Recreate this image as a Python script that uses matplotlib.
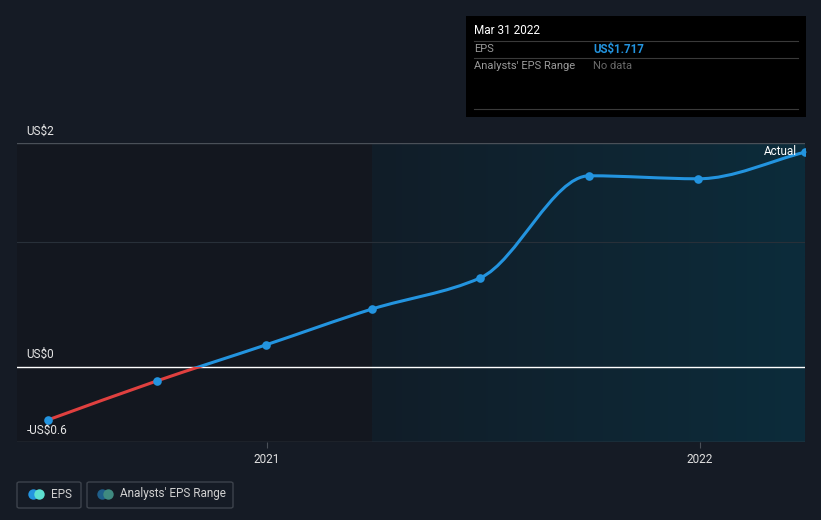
import numpy as np
import matplotlib.pyplot as plt
import matplotlib.dates as mdates
from matplotlib.path import Path
from matplotlib.patches import PathPatch, Rectangle, FancyBboxPatch
from matplotlib.colors import LinearSegmentedColormap
import datetime as dt

plt.rcParams['font.family'] = ['Roboto', 'DejaVu Sans']

# EPS data (quarterly, trailing)
dates = ['2020-06-30', '2020-09-30', '2020-12-31', '2021-03-31',
         '2021-06-30', '2021-09-30', '2021-12-31', '2022-03-31']
eps = [-0.424, -0.112, 0.176, 0.464, 0.712, 1.528, 1.504, 1.717]
y_ticks = [1.79, 0.0, -0.6]
y_labels = ['US$2', 'US$0', '-US$0.6']
x_ticks = ['2021-01-01', '2022-01-01']
x_labels = ['2021', '2022']

BG = '#151b25'
BLUE = '#2394df'
RED = '#e0403f'

fig = plt.figure(figsize=(8.21, 5.20), dpi=100, facecolor=BG)
ax = fig.add_axes([17 / 821, 78 / 520, 788 / 821, 299 / 520])
ax.set_facecolor('#13171f')

x = mdates.date2num([dt.date.fromisoformat(d) for d in dates])
y = np.array(eps)
x0 = mdates.date2num(dt.date(2020, 6, 4))
x1 = mdates.date2num(dt.date(2022, 3, 31))
ax.set_xlim(x0, x1)
ax.set_ylim(-0.6, 1.79)

# shaded "past year" region with horizontal gradient
grad = np.linspace(0, 1, 256).reshape(1, -1)
cm = LinearSegmentedColormap.from_list('sh', ['#111d28', '#0c2c3b'])
ax.imshow(grad, extent=[x[3], x1, -0.6, 1.79], aspect='auto', cmap=cm,
          zorder=0, interpolation='bilinear')

# grid lines
ax.axhline(1.79, color='#4a5058', lw=1, zorder=1)
ax.axhline(1.0, color='#283039', lw=0.8, zorder=1)
ax.axhline(-0.6, color='#4a5058', lw=1, zorder=1)
ax.axhline(0, color='white', lw=1, zorder=2)

# smooth monotone curve as cubic Bezier path
h = np.diff(x)
d = np.diff(y) / h
m = np.zeros_like(y)
m[0], m[-1] = d[0], d[-1]
for i in range(1, len(y) - 1):
    if d[i - 1] * d[i] <= 0:
        m[i] = 0
    else:
        w1 = 2 * h[i] + h[i - 1]
        w2 = h[i] + 2 * h[i - 1]
        m[i] = (w1 + w2) / (w1 / d[i - 1] + w2 / d[i])
verts = [(x[0], y[0])]
codes = [Path.MOVETO]
for i in range(len(x) - 1):
    verts += [(x[i] + h[i] / 3, y[i] + m[i] * h[i] / 3),
              (x[i + 1] - h[i] / 3, y[i + 1] - m[i + 1] * h[i] / 3),
              (x[i + 1], y[i + 1])]
    codes += [Path.CURVE4] * 3
path = Path(verts, codes)

for color, (lo, hi) in [(RED, (-5, 0)), (BLUE, (0, 5))]:
    p = PathPatch(path, facecolor='none', edgecolor=color, lw=2.2,
                  zorder=3, capstyle='round')
    ax.add_patch(p)
    clip = Rectangle((x0 - 100, lo), x1 - x0 + 200, hi - lo,
                     transform=ax.transData)
    p.set_clip_path(clip)

ax.plot(x, y, 'o', color=BLUE, ms=6.2, zorder=4, mec='none')

ax.text(x1 - 7, 1.72, 'Actual', color='white', fontsize=8.5,
        ha='right', va='center', zorder=5)

for s in ax.spines.values():
    s.set_visible(False)
ax.set_yticks([])
xt = mdates.date2num([dt.date.fromisoformat(d) for d in x_ticks])
ax.set_xticks(xt)
ax.set_xticklabels(x_labels, color='#e0e0e0', fontsize=8.5)
ax.tick_params(axis='x', length=4, color='#4a5058', pad=4)

# y labels just above their lines
for val, lab in zip(y_ticks, y_labels):
    ax.text(x0 + 8, val + 0.045, lab, color='#e6e6e6', fontsize=8.5,
            va='bottom', ha='left', clip_on=False)


def fx(px):
    return px / 821


def fy(py):
    return (520 - py) / 520


# tooltip box
fig.patches.append(Rectangle((fx(466), fy(117)), 340 / 821, 101 / 520,
                             transform=fig.transFigure, facecolor='black',
                             edgecolor='none', zorder=5))
fig.text(fx(474), fy(31), 'Mar 31 2022', color='white', fontsize=8.5,
         va='center', zorder=6)
for ly in (41, 58, 109):
    fig.add_artist(plt.Line2D([fx(474), fx(798)], [fy(ly), fy(ly)],
                              color='#3a3a3a', lw=0.8, zorder=6))
fig.text(fx(474), fy(49), 'EPS', color='#9a9a9a', fontsize=8, va='center', zorder=6)
fig.text(fx(593), fy(49), 'US$1.717', color=BLUE, fontsize=8.3, va='center',
         fontweight='bold', zorder=6)
fig.text(fx(474), fy(66), "Analysts' EPS Range", color='#9a9a9a', fontsize=8,
         va='center', zorder=6)
fig.text(fx(593), fy(66), 'No data', color='#6a6a6a', fontsize=8, va='center', zorder=6)

# legend
for (bx, bw) in [(17, 64), (87, 146)]:
    fig.patches.append(FancyBboxPatch((fx(bx), fy(508)), bw / 821, 26 / 520,
                                      boxstyle='round,pad=0,rounding_size=0.003',
                                      transform=fig.transFigure, facecolor='none',
                                      edgecolor='#3d434c', lw=1))
legend_items = [(33, 39, BLUE, '#5de0d0', 51, 'EPS'),
                (102, 108, '#1f5f8a', '#3f8a80', 120, "Analysts' EPS Range")]
for c1x, c2x, c1, c2, tx, lab in legend_items:
    fig.add_artist(plt.Line2D([fx(c1x)], [fy(494)], marker='o', ms=7.5, color=c1,
                              mec='none'))
    fig.add_artist(plt.Line2D([fx(c2x)], [fy(494)], marker='o', ms=7.5, color=c2,
                              mec='none'))
    fig.text(fx(tx), fy(494), lab, color='#d0d0d0', fontsize=8.5, va='center')

fig.savefig('out.png', dpi=100, facecolor=BG)
